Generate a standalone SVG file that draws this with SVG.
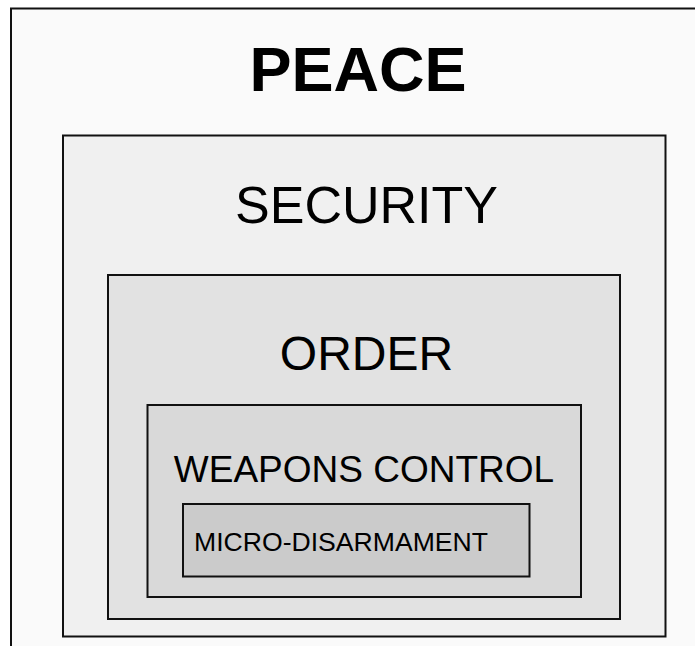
<svg xmlns="http://www.w3.org/2000/svg" width="695" height="646" viewBox="0 0 695 646">
<style>
.box{stroke:#111;stroke-width:2}
.t{font-family:"Liberation Sans",Arial,sans-serif;fill:#000;text-anchor:middle}
</style>
<rect width="695" height="646" fill="#ffffff"/>
<g id="peace">
<rect class="box" x="11" y="8.5" width="700" height="660" fill="#fafafa"/>
<text class="t" x="358" y="90.5" font-size="63" font-weight="bold">PEACE</text>
</g>
<g id="security">
<rect class="box" x="63" y="135.5" width="602.5" height="501" fill="#f0f0f0"/>
<text class="t" x="366.5" y="223" font-size="52">SECURITY</text>
</g>
<g id="order">
<rect class="box" x="108" y="275" width="512" height="344" fill="#e2e2e2"/>
<text class="t" x="366.5" y="370" font-size="48">ORDER</text>
</g>
<g id="weapons">
<rect class="box" x="147.5" y="405" width="433.5" height="192" fill="#d9d9d9"/>
<text class="t" x="364" y="482" font-size="37">WEAPONS CONTROL</text>
</g>
<g id="micro">
<rect class="box" x="183" y="504" width="346.5" height="72.5" fill="#cbcbcb"/>
<text class="t" x="194" y="551" font-size="26.6" style="text-anchor:start">MICRO-DISARMAMENT</text>
</g>
<g id="connectors"/>
</svg>
